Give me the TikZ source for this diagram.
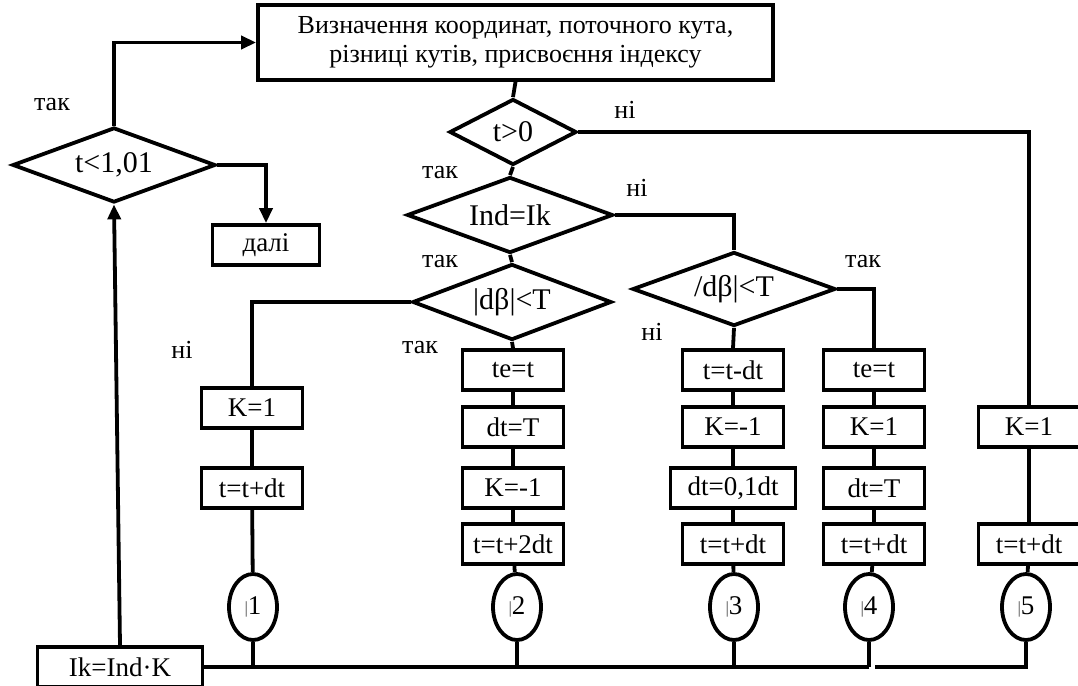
\documentclass[tikz,border=0pt]{standalone}
\usepackage{fontspec}
\setmainfont{Liberation Serif}
\usetikzlibrary{shapes.geometric,arrows.meta}
\newcommand{\cbarmark}{\raisebox{1pt}{\color{black!70}\fontsize{17}{17}\selectfont|}}
\begin{document}
\begin{tikzpicture}[x=1pt,y=-1pt, line width=3.8pt,
 box/.style={draw, rectangle, minimum width=101pt, minimum height=40pt, inner sep=0pt, font=\fontsize{27}{30}\selectfont},
 dec/.style={draw, diamond, inner sep=0pt, font=\fontsize{30}{32}\selectfont},
 conn/.style={draw, ellipse, minimum width=48pt, minimum height=66pt, inner sep=0pt, font=\fontsize{27}{30}\selectfont},
 lab/.style={font=\fontsize{26}{28}\selectfont, inner sep=0pt},
 arr/.style={-{Triangle[length=15pt,width=13pt]}}]
\useasboundingbox (0,0) rectangle (1078,685);
\node[draw, rectangle, minimum width=515pt, minimum height=75pt, inner sep=0pt, align=center, font=\fontsize{26}{29}\selectfont] (top) at (515.5,42.5) {Визначення координат, поточного кута,\\ різниці кутів, присвоєння індексу};
\node[dec, aspect=2.7, minimum width=203pt, minimum height=75pt] (d1) at (114,165) {t<1,01};
\node[box, minimum width=107pt] (dali) at (266,245) {далі};
\node[box, minimum width=165pt] (Ik) at (120,667) {Ik=Ind·K};
\node[dec, aspect=1.9, minimum width=127pt, minimum height=66pt] (d2) at (513,132) {t>0};
\node[dec, aspect=2.7, minimum width=206pt, minimum height=76pt] (d3) at (510,215) {Ind=Ik};
\node[dec, aspect=2.6, minimum width=199pt, minimum height=76pt] (d4) at (512,302) {|dβ|<T};
\node[dec, aspect=2.7, minimum width=203pt, minimum height=74pt] (d5) at (734,289) {/dβ|<T};
% column 1
\node[box] (c1a) at (252,408) {K=1};
\node[box] (c1b) at (252,488) {t=t+dt};
\node[conn] (e1) at (253,607) {\cbarmark1};
% column 2
\node[box] (c2a) at (513,370) {te=t};
\node[box] (c2b) at (513,427) {dt=T};
\node[box] (c2c) at (513,488) {K=-1};
\node[box] (c2d) at (513,544) {t=t+2dt};
\node[conn] (e2) at (517,607) {\cbarmark2};
% column 3
\node[box] (c3a) at (733,370) {t=t-dt};
\node[box] (c3b) at (733,427) {K=-1};
\node[box, minimum width=125pt] (c3c) at (733,488) {dt=0,1dt};
\node[box] (c3d) at (733,544) {t=t+dt};
\node[conn] (e3) at (734,607) {\cbarmark3};
% column 4
\node[box] (c4a) at (874,370) {te=t};
\node[box] (c4b) at (874,427) {K=1};
\node[box] (c4c) at (874,488) {dt=T};
\node[box] (c4d) at (874,544) {t=t+dt};
\node[conn] (e4) at (869,607) {\cbarmark4};
% column 5
\node[box] (c5a) at (1029,427) {K=1};
\node[box] (c5b) at (1029,544) {t=t+dt};
\node[conn] (e5) at (1026,607) {\cbarmark5};
% labels
\node[lab] (l1) at (52,105) {так};
\node[lab] (l2) at (625,110) {ні};
\node[lab] (l3) at (440,173) {так};
\node[lab] (l4) at (637,188) {ні};
\node[lab] (l5) at (440,262) {так};
\node[lab] (l6) at (863,262) {так};
\node[lab] (l7) at (420,348) {так};
\node[lab] (l8) at (652,332) {ні};
\node[lab] (l9) at (182,350) {ні};
% bottom coordinates
\coordinate (b1) at (253,667);
\coordinate (b2) at (517,667);
\coordinate (b3) at (734,667);
\coordinate (b4) at (869,667);
\coordinate (b45) at (875,667);
\coordinate (b5) at (1026,667);
% connectors
\draw[arr] (d1.north) |- (top.west);
\draw[arr] (d1.east) -| (dali.north);
\draw[arr] (Ik.north) -- (d1.south);
\draw (top.south) -- (d2.north);
\draw (d2.east) -| (c5a.north);
\draw (d2.south) -- (d3.north);
\draw (d3.east) -| (d5.north);
\draw (d3.south) -- (d4.north);
\draw (d4.west) -| (c1a.north);
\draw (d4.south) -- (c2a.north);
\draw (d5.south) -- (c3a.north);
\draw (d5.east) -| (c4a.north);
\draw (c1a) -- (c1b) -- (e1);
\draw (c2a) -- (c2b) -- (c2c) -- (c2d) -- (e2);
\draw (c3a) -- (c3b) -- (c3c) -- (c3d) -- (e3);
\draw (c4a) -- (c4b) -- (c4c) -- (c4d) -- (e4);
\draw (c5a) -- (c5b) -- (e5);
\draw (Ik.east) -- (b4);
\draw (e1.south) -- (b1);
\draw (e2.south) -- (b2);
\draw (e3.south) -- (b3);
\draw (e4.south) -- (b4);
\draw (e5.south) -- (b5) -- (b45);
\end{tikzpicture}
\end{document}
